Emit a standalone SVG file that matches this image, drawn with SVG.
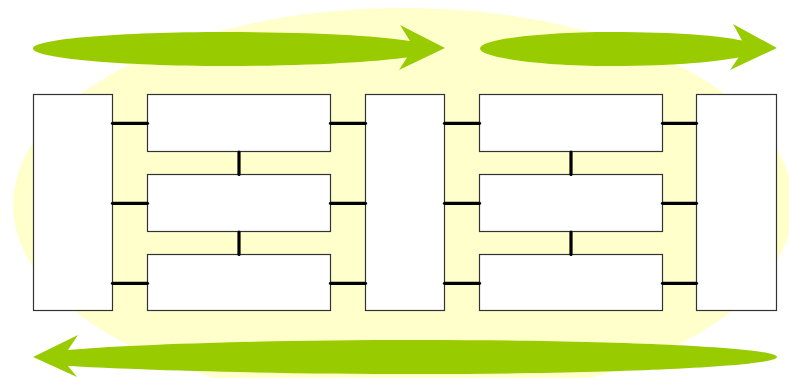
<svg xmlns="http://www.w3.org/2000/svg" width="789" height="378" viewBox="0 0 789 378">
  <style>
    .box { fill: #ffffff; stroke: #333333; stroke-width: 1.2; }
    .conn { stroke: #000000; stroke-width: 3.2; stroke-linecap: round; fill: none; }
    .flow { fill: #99cc00; }
  </style>
  <g id="background">
    <ellipse cx="403" cy="205" rx="390" ry="197" fill="#ffffcc"/>
  </g>
  <g id="flow-arrows">
    <path id="arrow-top-left" class="flow" d="M 33,48.5 C 33,39 120,32 225,32 C 320,32 380,36 410,41 L 400,25 L 445,48 L 399,70 L 407,57.5 C 380,61 320,66 225,66 C 120,66 33,58 33,48.5 Z"/>
    <path id="arrow-top-right" class="flow" d="M 480,48.5 C 480,39 545,32 610,32 C 680,32 720,36 742,40.5 L 733,24 L 777,48 L 730,70 L 738.5,57.5 C 720,61 680,66 610,66 C 545,66 480,58 480,48.5 Z"/>
    <path id="arrow-bottom" class="flow" d="M 777,357 C 777,347.6 617,340 420,340 C 250,340 120,345 68,350 L 78,335 L 33,357 L 77,377 L 68,366 C 120,369 250,374 420,374 C 617,374 777,366.4 777,357 Z"/>
  </g>
  <g id="node-left"><rect class="box" x="33.5" y="94.5" width="79" height="216"/></g>
  <g id="node-l1"><rect class="box" x="147.5" y="94.5" width="183" height="57"/></g>
  <g id="node-l2"><rect class="box" x="147.5" y="174.5" width="183" height="57"/></g>
  <g id="node-l3"><rect class="box" x="147.5" y="254.5" width="183" height="56"/></g>
  <g id="node-center"><rect class="box" x="365.5" y="94.5" width="79" height="216"/></g>
  <g id="node-r1"><rect class="box" x="479.5" y="94.5" width="183" height="57"/></g>
  <g id="node-r2"><rect class="box" x="479.5" y="174.5" width="183" height="57"/></g>
  <g id="node-r3"><rect class="box" x="479.5" y="254.5" width="183" height="56"/></g>
  <g id="node-right"><rect class="box" x="696.5" y="94.5" width="80" height="216"/></g>
  <g id="connectors">
    <line class="conn" x1="112.5" y1="123.3" x2="147.5" y2="123.3"/>
    <line class="conn" x1="112.5" y1="203.3" x2="147.5" y2="203.3"/>
    <line class="conn" x1="112.5" y1="283.3" x2="147.5" y2="283.3"/>
    <line class="conn" x1="330.5" y1="123.3" x2="365.5" y2="123.3"/>
    <line class="conn" x1="330.5" y1="203.3" x2="365.5" y2="203.3"/>
    <line class="conn" x1="330.5" y1="283.3" x2="365.5" y2="283.3"/>
    <line class="conn" x1="444.5" y1="123.3" x2="479.5" y2="123.3"/>
    <line class="conn" x1="444.5" y1="203.3" x2="479.5" y2="203.3"/>
    <line class="conn" x1="444.5" y1="283.3" x2="479.5" y2="283.3"/>
    <line class="conn" x1="662.5" y1="123.3" x2="696.5" y2="123.3"/>
    <line class="conn" x1="662.5" y1="203.3" x2="696.5" y2="203.3"/>
    <line class="conn" x1="662.5" y1="283.3" x2="696.5" y2="283.3"/>
    <line class="conn" x1="239" y1="152" x2="239" y2="174.5"/>
    <line class="conn" x1="239" y1="232" x2="239" y2="254.5"/>
    <line class="conn" x1="571" y1="152" x2="571" y2="174.5"/>
    <line class="conn" x1="571" y1="232" x2="571" y2="254.5"/>
  </g>
</svg>
